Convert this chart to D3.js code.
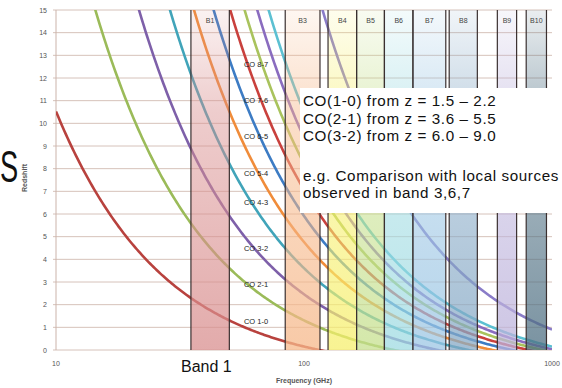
<!DOCTYPE html>
<html>
<head>
<meta charset="utf-8">
<script src="https://cdn.jsdelivr.net/npm/d3@7/dist/d3.min.js"></script>
<style>
  html, body { margin: 0; padding: 0; background: #fff; }
  svg { display: block; font-family: "Liberation Sans", Arial, sans-serif; }
</style>
</head>
<body>
<svg id="chart" width="562" height="388"></svg>
<script>
// CO rotational ladder (rest frequencies, GHz) and the [CII] fine-structure line
const lineNames = ["CO 1-0", "CO 2-1", "CO 3-2", "CO 4-3", "CO 5-4", "CO 6-5", "CO 7-6", "CO 8-7", "CO 9-8", "CO 10-9", "[CII]"];
const restFreqs = [115.27, 230.54, 345.80, 461.04, 576.27, 691.47, 806.65, 921.80, 1036.91, 1151.99, 1900.54];
const lineColors = ["#b8423e", "#9bbb59", "#7e60a9", "#41a4b9", "#f08c3a", "#3d7cc4", "#c9413d", "#a9c35d", "#8a6cbf", "#5cc0d2", "#8a7cc8"];

// ALMA receiver bands (GHz)
const bandNames = ["B1", "B3", "B4", "B5", "B6", "B7", "B8", "B9", "B10"];
const bandLow  = [35, 84, 125, 163, 211, 275, 385, 602, 787];
const bandHigh = [50, 116, 163, 211, 275, 373, 500, 720, 950];
const bandColors = ["#d98f8f", "#f6b88a", "#f6ef6e", "#c6e08e", "#9fdbe2", "#9cc6e4", "#86a9c6", "#bdb3dc", "#4e6f82"];

const xTicks = [10, 100, 1000];
const yTicks = d3.range(0, 16);

const noteLines = ["CO(1-0) from z = 1.5 \u2013 2.2", "CO(2-1) from z = 3.6 \u2013 5.5", "CO(3-2) from z = 6.0 \u2013 9.0"];
const noteLines2 = ["e.g. Comparison with local sources", "observed in band 3,6,7"];

const svg = d3.select("#chart");
const L = 56, R = 552, T = 10, B = 350;
const x = d3.scaleLog().domain([10, 1000]).range([L, R]);
const y = d3.scaleLinear().domain([0, 15]).range([B, T]);

const defs = svg.append("defs");
defs.append("clipPath").attr("id", "plot").append("rect")
  .attr("x", L).attr("y", T).attr("width", R - L).attr("height", B - T);

// gridlines
svg.append("g").selectAll("line").data(yTicks).join("line")
  .attr("x1", L - 3).attr("x2", R)
  .attr("y1", d => y(d)).attr("y2", d => y(d))
  .attr("stroke", "#d6c2ba").attr("stroke-width", 1);
svg.append("line").attr("x1", L).attr("x2", L).attr("y1", T).attr("y2", B)
  .attr("stroke", "#cbb3aa");

// y tick labels
svg.append("g").selectAll("text").data(yTicks).join("text")
  .attr("x", L - 9).attr("y", d => y(d) + 2.5)
  .attr("text-anchor", "end").attr("font-size", 7).attr("fill", "#555")
  .text(d => d);
// x tick labels
svg.append("g").selectAll("text").data(xTicks).join("text")
  .attr("x", d => x(d)).attr("y", 366)
  .attr("text-anchor", "middle").attr("font-size", 7).attr("fill", "#555")
  .text(d => d);

svg.append("text").attr("x", x(100)).attr("y", 383).attr("text-anchor", "middle")
  .attr("font-size", 7).attr("font-weight", "bold").attr("fill", "#555").text("Frequency (GHz)");
svg.append("text").attr("transform", "translate(27,178) rotate(-90)").attr("text-anchor", "middle")
  .attr("font-size", 7).attr("font-weight", "bold").attr("fill", "#555").text("Redshift");

// redshift tracks: z = nu_rest / nu_obs - 1
const sampleF = d3.range(0, 301).map(i => Math.pow(10, 1 + i / 150));
const line = d3.line().x(d => x(d[0])).y(d => y(d[1]));
const curves = svg.append("g").attr("clip-path", "url(#plot)");
restFreqs.forEach((f0, i) => {
  const pts = sampleF.map(f => [f, f0 / f - 1]).filter(p => p[1] >= -0.5 && p[1] <= 16);
  curves.append("path").datum(pts).attr("d", line)
    .attr("fill", "none").attr("stroke", lineColors[i]).attr("stroke-width", 2.6);
});

// band shading
const bands = svg.append("g");
bandNames.forEach((b, i) => {
  const g = defs.append("linearGradient").attr("id", "g" + i)
    .attr("x1", 0).attr("x2", 0).attr("y1", 0).attr("y2", 1);
  g.append("stop").attr("offset", "0%").attr("stop-color", bandColors[i]).attr("stop-opacity", 0.12);
  g.append("stop").attr("offset", "30%").attr("stop-color", bandColors[i]).attr("stop-opacity", 0.45);
  g.append("stop").attr("offset", "100%").attr("stop-color", bandColors[i]).attr("stop-opacity", 0.75);
  bands.append("rect").attr("x", x(bandLow[i])).attr("y", T)
    .attr("width", x(bandHigh[i]) - x(bandLow[i])).attr("height", B - T)
    .attr("fill", `url(#g${i})`);
  [bandLow[i], bandHigh[i]].forEach(f => {
    bands.append("line").attr("x1", x(f)).attr("x2", x(f)).attr("y1", T).attr("y2", B)
      .attr("stroke", "#3a3030").attr("stroke-width", 1.2);
  });
  bands.append("text").attr("x", x(Math.sqrt(bandLow[i] * bandHigh[i])))
    .attr("y", 23).attr("text-anchor", "middle").attr("font-size", 7).attr("fill", "#444").text(b);
});

// track labels
const labelZ = [1.25, 2.9, 4.5, 6.5, 7.8, 9.4, 11.0, 12.6];
labelZ.forEach((z, i) => {
  svg.append("text").attr("x", 256).attr("y", y(z) + 2.5).attr("text-anchor", "middle")
    .attr("font-size", 7.5).attr("fill", "#222").text(lineNames[i]);
});

// note box
svg.append("rect").attr("x", 300).attr("y", 88).attr("width", 262).attr("height", 125).attr("fill", "#fff");
svg.append("g").selectAll("text").data(noteLines).join("text")
  .attr("x", 303).attr("y", (d, i) => 106.2 + i * 17.3)
  .attr("font-size", 15.2).attr("letter-spacing", 0.6).attr("fill", "#111").text(d => d);
svg.append("g").selectAll("text").data(noteLines2).join("text")
  .attr("x", 303).attr("y", (d, i) => 180.5 + i * 17.3)
  .attr("font-size", 15.2).attr("letter-spacing", 0.6).attr("fill", "#111").text(d => d);

svg.append("text").attr("x", 181).attr("y", 372).attr("font-size", 16).attr("fill", "#111").text("Band 1");
svg.append("text").attr("transform", "translate(0,182) scale(0.62,1)")
  .attr("font-size", 44).attr("fill", "#111").text("S");
</script>
</body>
</html>
